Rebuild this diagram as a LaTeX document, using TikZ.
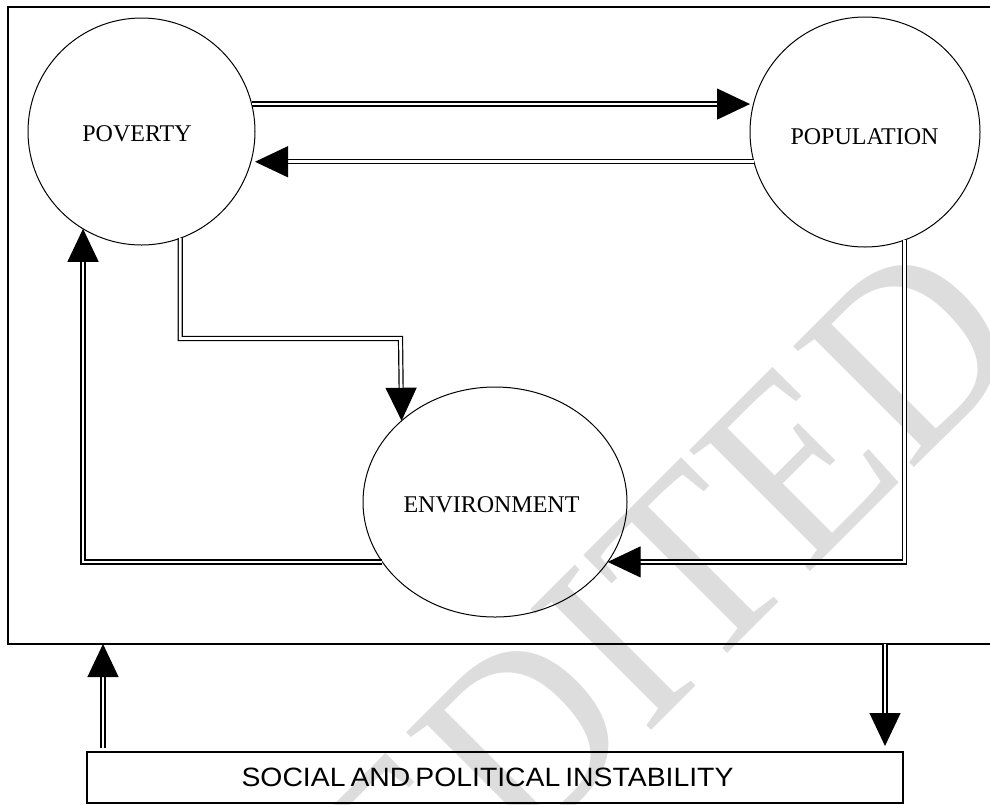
\documentclass[tikz,border=0pt]{standalone}
\usepackage{fontspec}
\setmainfont{Liberation Serif}
\newfontfamily\labelsans[FakeStretch=1.07]{Liberation Sans}
\newfontfamily\wmfont[FakeStretch=0.92]{Liberation Serif}
\usetikzlibrary{arrows.meta,shapes.geometric}
\definecolor{wmgray}{RGB}{221,221,221}
\newcommand{\tightspaces}{\spaceskip 5pt\relax}
\begin{document}
\begin{tikzpicture}[x=1pt,y=-1pt,
  bubble/.style={draw=black, line width=1pt, inner sep=0pt, outer sep=0pt},
  bubbletext/.style={inner sep=0pt, font=\fontsize{24}{28}\selectfont},
  framebox/.style={draw=black, line width=1.5pt, inner sep=0pt, outer sep=0pt},
  link/.style={draw=black, line width=1.2pt, double=white, double distance=2.8pt,
    -{Triangle[length=33pt,width=31pt]}},
  wmark/.style={rotate=45, inner sep=0pt, outer sep=0pt,
    font={\wmfont\fontsize{261}{261}\selectfont}, text=wmgray}
]
\useasboundingbox (0,0) rectangle (990,804);
% watermark
\node[wmark] (wm) at (665,596) {EDITED};
% frame
\node[framebox, minimum width=984pt, minimum height=637pt] (box) at (500,325.5) {};
% bubbles
\node[bubble, circle, minimum size=227pt] (pov) at (141.5,131.5) {};
\node[bubble, circle, minimum size=230pt] (pop) at (865,132) {};
\node[bubble, ellipse, minimum width=264pt, minimum height=230pt] (env) at (495,502) {};
\node[bubbletext] (povlabel) at (137,134) {POVERTY};
\node[bubbletext] (poplabel) at (864.5,136.5) {POPULATION};
\node[bubbletext] (envlabel) at (491.5,505) {ENVIRONMENT};
% bottom box
\node[framebox, minimum width=816pt, minimum height=51pt] (social) at (495,777.5) {};
\node[inner sep=0pt, font={\labelsans\fontsize{26.5}{30}\selectfont\tightspaces}]
  (sociallabel) at (487.5,777.5) {SOCIAL AND POLITICAL INSTABILITY};
% connectors
\draw[link] (pov.14) -- (pov.14 -| pop.west);
\draw[link] (pop.195.4) -- (pop.195.4 -| pov.east);
\coordinate (k1) at (400.5,338.5);
\draw[link] (pov.-70.4) |- (k1) -- (env.139.75);
\draw[link] (pop.-70.7) |- (env.-28.3);
\draw[link] (env.208.1) -| (pov.239.9);
\coordinate (s1) at (103,700);
\coordinate (s2) at (885,700);
\draw[link, shorten <=4pt] (social.north -| s1) -- (box.south -| s1);
\draw[link, shorten >=6pt] (box.south -| s2) -- (social.north -| s2);
\end{tikzpicture}
\end{document}
